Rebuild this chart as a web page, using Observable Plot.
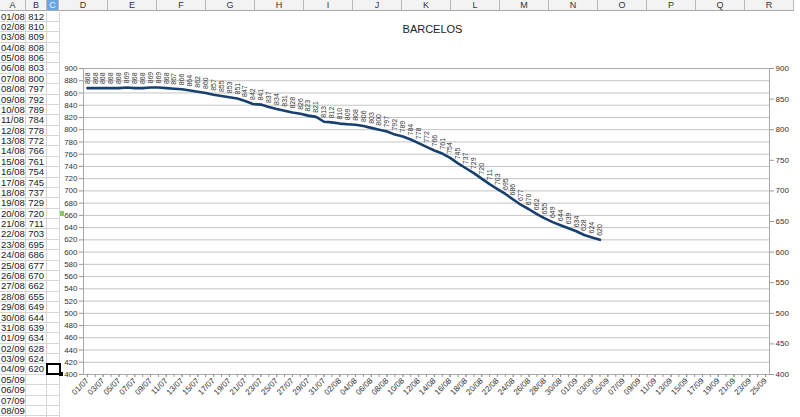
<!DOCTYPE html>
<html>
<head>
<meta charset="utf-8">
<script src="https://cdn.jsdelivr.net/npm/d3@7"></script>
<script src="https://cdn.jsdelivr.net/npm/@observablehq/plot@0.6"></script>
<style>
  html, body { margin: 0; padding: 0; background: #fff; width: 800px; height: 417px; overflow: hidden; }
  body { position: relative; font-family: "Liberation Sans", Arial, sans-serif; }
  .hdr { position: absolute; top: 0; height: 11px; background: #f3f3f3; border-right: 1px solid #b8b8b8; border-bottom: 1px solid #a8a8a8; box-sizing: border-box; font-size: 9px; line-height: 11px; text-align: center; color: #333; }
  .cell { position: absolute; box-sizing: border-box; border-right: 1px solid #d6d6d6; border-bottom: 1px solid #d6d6d6; font-size: 9.5px; color: #222; white-space: nowrap; overflow: hidden; }
  #chart { position: absolute; left: 60px; top: 12px; width: 740px; height: 405px; background: #fff; }
</style>
</head>
<body>
<div id="sheet"></div>
<div id="chart"></div>
<script>
// ---- data ----
const julDates = ["01/07","02/07","03/07","04/07","05/07","06/07","07/07","08/07","09/07","10/07","11/07","12/07","13/07","14/07","15/07","16/07","17/07","18/07","19/07","20/07","21/07","22/07","23/07","24/07","25/07","26/07","27/07","28/07","29/07","30/07","31/07"];
const augDates = ["01/08","02/08","03/08","04/08","05/08","06/08","07/08","08/08","09/08","10/08","11/08","12/08","13/08","14/08","15/08","16/08","17/08","18/08","19/08","20/08","21/08","22/08","23/08","24/08","25/08","26/08","27/08","28/08","29/08","30/08","31/08"];
const sepDates = ["01/09","02/09","03/09","04/09","05/09","06/09","07/09","08/09","09/09","10/09","11/09","12/09","13/09","14/09","15/09","16/09","17/09","18/09","19/09","20/09","21/09","22/09","23/09","24/09","25/09"];
const julValues = [868,868,868,868,868,869,868,868,869,869,868,867,866,864,862,860,857,855,853,851,847,842,841,837,834,831,828,826,823,821,813];
const augValues = [812,810,809,808,806,803,800,797,792,789,784,778,772,766,761,754,745,737,729,720,711,703,695,686,677,670,662,655,649,644,639];
const sepValues = [634,628,624,620];
const yTicksLeft = [400,420,440,460,480,500,520,540,560,580,600,620,640,660,680,700,720,740,760,780,800,820,840,860,880,900];
const yTicksRight = [400,450,500,550,600,650,700,750,800,850,900];
const title = "BARCELOS";
const columnLetters = ["A","B","C","D","E","F","G","H","I","J","K","L","M","N","O","P","Q","R"];

const dates = [...julDates, ...augDates, ...sepDates];
const values = [...julValues, ...augValues, ...sepValues];
const series = values.map((v, i) => ({date: dates[i], value: v}));
const labelDates = dates.filter((d, i) => i % 2 === 0);

// ---- spreadsheet frame ----
const sheet = document.getElementById("sheet");
const colEdges = [0, 26, 47, 59];
for (let k = 3; k < columnLetters.length; k++) colEdges.push(59 + 49 * (k - 2));
columnLetters.forEach((c, k) => {
  const d = document.createElement("div");
  d.className = "hdr";
  d.style.left = colEdges[k] + "px";
  d.style.width = (colEdges[k + 1] - colEdges[k]) + "px";
  d.textContent = c;
  if (c === "C") { d.style.background = "#6aa6e4"; d.style.color = "#eaf3fc"; }
  sheet.appendChild(d);
});
const rowH = 10.38, rowTop = 11.5;
const sheetDates = [...augDates, ...sepDates.slice(0, 9)];
const sheetValues = [...augValues, ...sepValues];
sheetDates.forEach((d, r) => {
  const top = rowTop + r * rowH;
  const a = document.createElement("div");
  a.className = "cell";
  Object.assign(a.style, {left: "0px", top: top + "px", width: "26px", height: rowH + "px", lineHeight: rowH + "px", paddingLeft: "1px"});
  a.textContent = d;
  sheet.appendChild(a);
  const b = document.createElement("div");
  b.className = "cell";
  Object.assign(b.style, {left: "26px", top: top + "px", width: "21px", height: rowH + "px", lineHeight: rowH + "px", textAlign: "right", paddingRight: "2px"});
  b.textContent = r < sheetValues.length ? sheetValues[r] : "";
  sheet.appendChild(b);
  const c = document.createElement("div");
  c.className = "cell";
  Object.assign(c.style, {left: "47px", top: top + "px", width: "13px", height: rowH + "px"});
  sheet.appendChild(c);
});
// selected cell + marker
const sel = document.createElement("div");
Object.assign(sel.style, {position: "absolute", left: "46px", top: (rowTop + 34 * rowH - 1) + "px", width: "15px", height: "12px", border: "2px solid #000", boxSizing: "border-box", zIndex: 5});
sheet.appendChild(sel);
const handle = document.createElement("div");
Object.assign(handle.style, {position: "absolute", left: "59px", top: (rowTop + 35 * rowH - 3) + "px", width: "4px", height: "4px", background: "#000", zIndex: 6});
sheet.appendChild(handle);
const mark = document.createElement("div");
Object.assign(mark.style, {position: "absolute", left: "60px", top: (rowTop + 19 * rowH + 2) + "px", width: "4px", height: "5px", background: "#8cc95c", zIndex: 6});
sheet.appendChild(mark);

// ---- chart ----
const chart = Plot.plot({
  width: 740,
  height: 405,
  marginTop: 56,
  marginBottom: 43,
  marginLeft: 23,
  marginRight: 31,
  style: {fontFamily: "Liberation Sans, Arial, sans-serif", background: "transparent", color: "#333"},
  x: {type: "point", domain: dates, padding: 0.5},
  y: {domain: [400, 900]},
  marks: [
    Plot.ruleY(yTicksLeft, {stroke: "#c4c4c4", strokeWidth: 1}),
    Plot.frame({stroke: "#a9a9a9"}),
    Plot.axisY({anchor: "left", ticks: yTicksLeft, tickSize: 4, tickPadding: 2, fontSize: 8, label: null, stroke: "#999"}),
    Plot.axisY({anchor: "right", ticks: yTicksRight, tickSize: 4, tickPadding: 2, fontSize: 8, label: null, stroke: "#999"}),
    Plot.axisX({anchor: "bottom", ticks: dates, tickSize: 3, text: null, label: null, stroke: "#999"}),
    Plot.axisX({anchor: "bottom", ticks: labelDates, tickSize: 3, tickRotate: -45, tickPadding: 2, fontSize: 8, label: null, stroke: "#999"}),
    Plot.line(series, {x: "date", y: "value", stroke: "#17406f", strokeWidth: 2.6, curve: "linear"}),
    Plot.text(series, {x: "date", y: "value", text: d => String(d.value), rotate: -90, textAnchor: "start", dy: -4, fontSize: 7, fill: "#333"}),
    Plot.text([title], {frameAnchor: "top", dy: -43, dx: 6, fontSize: 11, fill: "#222"})
  ]
});
document.getElementById("chart").appendChild(chart);
</script>
</body>
</html>
